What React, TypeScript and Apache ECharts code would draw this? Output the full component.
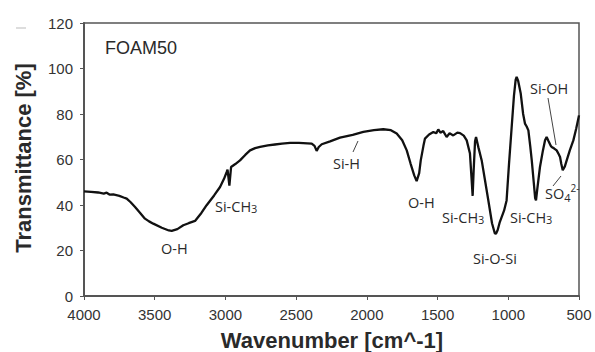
import React, { useEffect, useRef } from "react";
import * as echarts from "echarts";

const wavenumbers = [
  4000, 3950, 3900, 3860, 3840, 3820, 3793, 3750, 3720, 3698, 3670, 3639, 3600, 3569, 3540, 3510,
  3450, 3400, 3380, 3340, 3298, 3260, 3215, 3170, 3133, 3080, 3038, 3010, 2991, 2985, 2972, 2960,
  2930, 2897, 2860, 2826, 2790, 2755, 2700, 2650, 2600, 2543, 2480, 2420, 2390, 2370, 2355, 2340,
  2319, 2260, 2190, 2100, 2025, 1950, 1884, 1830, 1789, 1750, 1718, 1690, 1665, 1648, 1630, 1619,
  1600, 1589, 1560, 1530, 1510, 1495, 1480, 1460, 1436, 1415, 1389, 1360, 1341, 1315, 1294, 1271,
  1260, 1252, 1245, 1235, 1228, 1210, 1188, 1165, 1141, 1115, 1095, 1087, 1075, 1060, 1047, 1030,
  1012, 995, 976, 960, 948, 941, 930, 912, 895, 882, 870, 858, 845, 834, 820, 810, 804, 795, 776,
  755, 740, 729, 715, 700, 693, 675, 658, 645, 634, 625, 615, 600, 587, 565, 540, 520, 500,
];
const transmittance = [
  46, 45.8, 45.5, 45.0, 45.4, 44.6, 44.7, 44.0, 43.3, 42.8, 41.2, 39.1, 36.3, 34.0, 32.8, 31.8,
  30.0, 28.8, 28.6, 29.4, 31.1, 32.0, 33.0, 36.5, 39.9, 44.2, 47.9, 51.5, 54.5, 55.5, 48.5, 56.7,
  58, 59.6, 62, 64, 65, 65.5, 66.2, 66.6, 67, 67.3, 67.3, 67.1, 67, 66, 63.8, 65.5,
  66.7, 68, 69.6, 70.8, 72.1, 72.9, 73.3, 72.9, 71.4, 68.5, 64, 58, 53, 50.5, 54, 59.6,
  66, 69.2, 71, 72.1, 71.5, 73.2, 71.8, 72.5, 69.9, 71.5, 70.6, 71.8, 71.6, 70.5, 68.4, 62.6,
  52, 44, 55, 68, 69.9, 65, 59.6, 51, 42, 32, 27.5, 27.4, 29, 32.5, 34.7, 37.5,
  42, 58, 74.3, 88, 95, 96.3, 94.5, 89, 80, 75.8, 74.5, 72.8, 66, 59.6, 50, 43, 42, 47, 56.7,
  64, 68.5, 69.9, 68, 66, 65.5, 64.8, 64, 62.5, 61.1, 58, 55.3, 57, 59.6, 64, 68.4, 73.5, 79.4,
];
const xTicks = [500, 4000, 500]; // min, max, interval
const yTicks = [0, 120, 20];

const LABEL_FONT = "Open Sans, Liberation Sans, sans-serif";
const TXT = "#2a2a2a";
const rich = {
  s: { fontSize: 11, fontFamily: LABEL_FONT, fill: TXT, verticalAlign: "bottom", padding: [4, 0, 0, 0] },
  sup: { fontSize: 10, fontFamily: LABEL_FONT, fill: TXT, padding: [0, 0, 10, 0] },
};

export default function App() {
  const ref = useRef<HTMLDivElement>(null);
  useEffect(() => {
    if (!ref.current) return;
    const chart = echarts.init(ref.current, null, { renderer: "svg" });
    const data = wavenumbers.map((w, i) => [w, transmittance[i]]);
    const lbl = (text: string, x: number, y: number, size = 14.5) => ({
      type: "text",
      x,
      y,
      style: {
        text,
        fill: TXT,
        font: `${size}px ${LABEL_FONT}`,
        verticalAlign: "middle",
        align: "left",
        rich,
      },
    });
    const ln = (x1: number, y1: number, x2: number, y2: number, color = "#444") => ({
      type: "line",
      shape: { x1, y1, x2, y2 },
      style: { stroke: color, lineWidth: 1 },
    });
    chart.setOption({
      animation: false,
      backgroundColor: "#fff",
      grid: {
        left: 84,
        right: 16,
        top: 23,
        bottom: 56,
        show: true,
        borderColor: "#555",
        borderWidth: 1.5,
      },
      xAxis: {
        type: "value",
        min: xTicks[0],
        max: xTicks[1],
        interval: xTicks[2],
        inverse: true,
        axisLine: { lineStyle: { color: "#555", width: 2 } },
        axisTick: { show: true, length: 4, lineStyle: { color: "#555" } },
        splitLine: { show: false },
        axisLabel: {
          color: "#333",
          fontSize: 15,
          fontFamily: "Liberation Sans, Arial, sans-serif",
          margin: 11,
          formatter: (v: number) => String(v),
        },
      },
      yAxis: {
        type: "value",
        min: yTicks[0],
        max: yTicks[1],
        interval: yTicks[2],
        axisLine: { show: true, lineStyle: { color: "#555", width: 2 } },
        axisTick: { show: true, length: 4, lineStyle: { color: "#555" } },
        splitLine: { show: false },
        axisLabel: {
          color: "#333",
          fontSize: 15,
          fontFamily: "Liberation Sans, Arial, sans-serif",
          margin: 11,
          formatter: (v: number) => String(v),
        },
      },
      series: [
        {
          type: "line",
          data,
          showSymbol: false,
          lineStyle: { color: "#111", width: 2.3 },
          smooth: false,
        },
      ],
      graphic: [
        ln(16, 28, 26, 28, "#bbb"),
        {
          type: "text",
          x: 105,
          y: 48,
          style: { text: "FOAM50", fill: TXT, font: "18px Liberation Sans, Arial, sans-serif", verticalAlign: "middle" },
        },
        {
          type: "text",
          x: 23,
          y: 158,
          rotation: Math.PI / 2,
          style: {
            text: "Transmittance [%]",
            fill: TXT,
            font: "bold 22px Liberation Sans, Arial, sans-serif",
            align: "center",
            verticalAlign: "middle",
          },
        },
        {
          type: "text",
          x: 332,
          y: 340,
          style: {
            text: "Wavenumber [cm^-1]",
            fill: TXT,
            font: "bold 22px Liberation Sans, Arial, sans-serif",
            align: "center",
            verticalAlign: "middle",
          },
        },
        lbl("O-H", 161, 248),
        lbl("Si-CH{s|3}", 215, 206),
        lbl("Si-H", 333, 163),
        ln(353, 152, 358, 141),
        lbl("O-H", 408, 202),
        lbl("Si-CH{s|3}", 442, 217),
        lbl("Si-O-Si", 473, 258),
        lbl("Si-CH{s|3}", 510, 217),
        lbl("Si-OH", 530, 88),
        ln(548, 98, 556, 145),
        lbl("SO{s|4}{sup|2-}", 545, 193),
        ln(553, 186, 561, 176),
      ],
    });
    return () => chart.dispose();
  }, []);
  return (
    <div
      ref={ref}
      style={{ position: "fixed", left: 0, top: 0, width: 595, height: 352 }}
    />
  );
}
